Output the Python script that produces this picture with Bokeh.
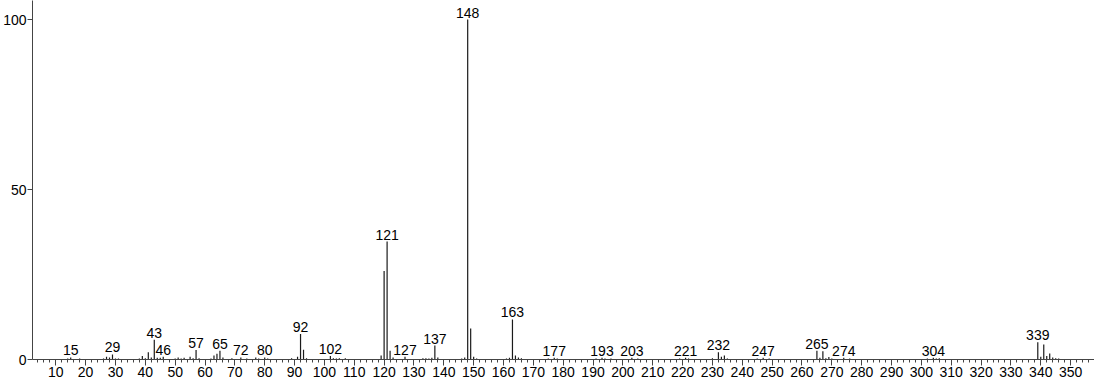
from bokeh.plotting import figure
from bokeh.models import FixedTicker, ColumnDataSource, Range1d
from bokeh.core.properties import value
from bokeh.embed import file_html
from bokeh.resources import INLINE

mz = [14, 15, 18, 26, 27, 28, 29, 30, 31, 38, 39, 40, 41, 42, 43, 44, 45, 46,
      50, 51, 52, 53, 55, 56, 57, 58, 62, 63, 64, 65, 66, 69, 72, 74, 77, 78,
      80, 81, 89, 91, 92, 93, 94, 102, 103, 104, 105, 107, 119, 120, 121, 122,
      123, 127, 133, 134, 135, 136, 137, 138, 146, 147, 148, 149, 150, 151,
      161, 162, 163, 164, 165, 166, 175, 177, 178, 191, 193, 194, 196, 203,
      205, 219, 221, 222, 230, 232, 233, 234, 235, 245, 247, 249, 265, 266,
      267, 268, 269, 270, 274, 276, 302, 304, 305, 306, 339, 340, 341, 342,
      343, 344, 345, 346]
intensity = [0.3, 0.6, 0.3, 0.3, 0.8, 0.6, 1.5, 0.3, 0.3, 0.3, 1.0, 0.4, 2.1, 0.6,
             5.8, 0.5, 0.5, 0.8, 0.3, 0.6, 0.3, 0.5, 0.8, 0.4, 2.8, 0.4, 0.3, 1.2,
             1.7, 2.6, 0.6, 0.4, 0.6, 0.3, 0.6, 0.3, 0.6, 0.3, 0.4, 0.8, 7.5, 2.9,
             0.4, 1.0, 0.4, 0.3, 0.4, 0.4, 1.2, 26.0, 34.7, 2.6, 0.6, 0.8, 0.4,
             0.4, 0.3, 0.5, 4.1, 0.6, 0.3, 0.6, 100.0, 9.1, 0.8, 0.3, 0.3, 0.5,
             11.8, 1.2, 0.6, 0.4, 0.3, 0.5, 0.3, 0.3, 0.5, 0.3, 0.3, 0.5, 0.3,
             0.3, 0.5, 0.3, 0.4, 2.1, 0.8, 1.2, 0.3, 0.3, 0.5, 0.3, 2.6, 0.5,
             2.4, 0.4, 0.7, 0.3, 0.5, 0.3, 0.3, 0.5, 0.3, 0.4, 5.1, 0.8, 4.4,
             1.0, 1.8, 0.6, 0.4, 0.3]

label_mz = [15, 29, 43, 46, 57, 65, 72, 80, 92, 102, 121, 127, 137, 148, 163,
            177, 193, 203, 221, 232, 247, 265, 274, 304, 339]

x_ticks = list(range(10, 351, 10))
x_minor = list(range(4, 357, 2))
y_ticks = [0, 50, 100]

lookup = dict(zip(mz, intensity))
label_y = [lookup[m] for m in label_mz]
label_txt = [str(m) for m in label_mz]

FONT = "Liberation Sans"

p = figure(width=1094, height=384, output_backend="svg", toolbar_location=None,
           x_range=Range1d(2.2, 358.0), y_range=Range1d(0, 105.6),
           min_border_left=30, min_border_bottom=25, min_border_top=0,
           min_border_right=0)
p.outline_line_color = None
p.grid.visible = False

peaks = ColumnDataSource(dict(x=mz, y=intensity, y0=[0] * len(mz)))
p.segment(x0="x", y0="y0", x1="x", y1="y", source=peaks,
          line_color="#1a1a1a", line_width=1.2)

labels = ColumnDataSource(dict(x=label_mz, y=label_y, t=label_txt))
p.text(x="x", y="y", text="t", source=labels, text_align="center",
       text_baseline="bottom", y_offset=-2, text_font=value(FONT),
       text_font_size="14px", text_color="#000000")

xa = p.xaxis[0]
xa.ticker = FixedTicker(ticks=x_ticks, minor_ticks=x_minor)
xa.major_tick_in = 0
xa.major_tick_out = 6
xa.minor_tick_in = 0
xa.minor_tick_out = 3
xa.axis_line_color = "#444444"
xa.major_tick_line_color = "#444444"
xa.minor_tick_line_color = "#444444"
xa.major_label_text_font = FONT
xa.major_label_text_font_size = "14px"
xa.major_label_text_color = "#000000"
xa.major_label_standoff = 1

ya = p.yaxis[0]
ya.ticker = FixedTicker(ticks=y_ticks, minor_ticks=[])
ya.major_tick_in = 0
ya.major_tick_out = 5
ya.minor_tick_line_color = None
ya.axis_line_color = "#444444"
ya.major_tick_line_color = "#444444"
ya.major_label_text_font = FONT
ya.major_label_text_font_size = "14px"
ya.major_label_text_color = "#000000"
ya.major_label_standoff = 1

open("out.html", "w").write(file_html(p, INLINE))
